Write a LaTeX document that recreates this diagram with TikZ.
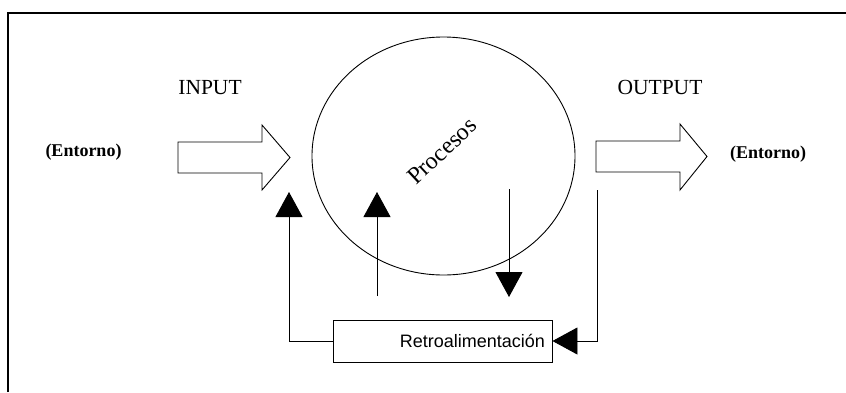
\documentclass[tikz,border=0pt]{standalone}
\usepackage{fontspec}
\setmainfont{Liberation Serif}
\newfontfamily\arialf{Liberation Sans}
\usetikzlibrary{arrows.meta,shapes.geometric}
\tikzset{
  line/.style={draw=black, line width=0.9pt},
  fbarrow/.style={line, -{Triangle[length=25pt,width=27pt]}},
  blockarrow/.style={draw=black, line width=0.9pt, fill=white, line join=miter},
  caption/.style={font=\fontsize{21.5}{24}\selectfont, inner sep=0pt},
  envtext/.style={font=\fontsize{18}{20}\selectfont\bfseries, inner sep=0pt},
}
\begin{document}
\begin{tikzpicture}[x=1pt,y=-1pt]
\useasboundingbox (0,0) rectangle (846,392);
% frame (top and left only visible)
\draw[line width=2pt] (8,392) -- (8,13) -- (846,13);

% process ellipse
\node[ellipse, line, minimum width=263pt, minimum height=238pt, inner sep=0pt] (proc) at (443.5,156) {};
\node[font=\fontsize{24}{26}\selectfont, rotate=43, inner sep=0pt] (proclabel) at (442,151) {Procesos};

% texts
\node[caption] (input) at (210,87.5) {INPUT};
\node[caption] (output) at (660,87.5) {OUTPUT};
\node[envtext] (envin) at (83.5,152) {(Entorno)};
\node[envtext] (envout) at (768,154) {(Entorno)};

% block arrows
\draw[blockarrow] (178,142) -- (262,142) -- (262,125) -- (290,157.5) -- (262,190) -- (262,173) -- (178,173) -- cycle;
\draw[blockarrow] (596,141) -- (680,141) -- (680,124) -- (707,156.5) -- (680,190) -- (680,172) -- (596,172) -- cycle;

% feedback box
\node[line, minimum width=219pt, minimum height=42pt, inner xsep=7pt, text width=205pt, align=right,
      font=\arialf\fontsize{18}{20}\selectfont] (fb) at (442.5,341) {Retroalimentación};

% coordinates for connectors
\coordinate (lefttop) at (289,192);
\coordinate (leftcorner) at (289,341);
\coordinate (midbot) at (377,296);
\coordinate (midtop) at (377,192);
\coordinate (downtop) at (509,189);
\coordinate (downbot) at (509,297);
\coordinate (righttop) at (597,190);
\coordinate (rightcorner) at (597,341);

% connectors
\draw[fbarrow] (fb.west) -- (leftcorner) -- (lefttop);
\draw[fbarrow] (midbot) -- (midtop);
\draw[fbarrow] (downtop) -- (downbot);
\draw[fbarrow] (righttop) -- (rightcorner) -- (fb.east);
\end{tikzpicture}
\end{document}
